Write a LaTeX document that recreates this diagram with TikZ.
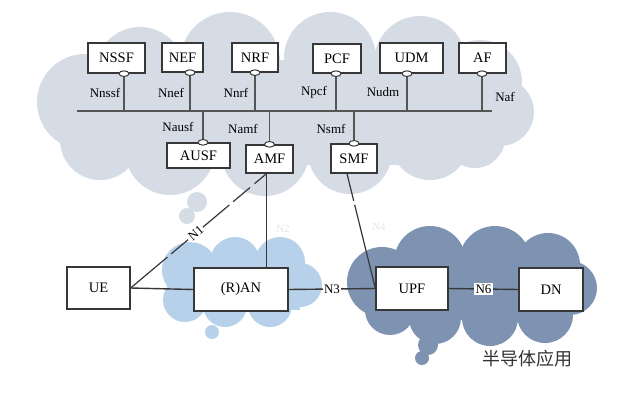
\documentclass[tikz,border=0pt]{standalone}
\usepackage{fontspec}
\setmainfont{Liberation Serif}
\newfontfamily\cjkfont{Noto Sans CJK SC}
\definecolor{cloudA}{RGB}{214,220,230}
\definecolor{cloudB}{RGB}{184,209,235}
\definecolor{cloudC}{RGB}{126,147,178}
\definecolor{lineC}{RGB}{55,55,55}
\begin{document}
\begin{tikzpicture}[x=1pt,y=-1pt,
  nf/.style={draw=lineC,line width=1.3pt,fill=white,inner sep=0pt,
    font=\fontsize{14.5}{16}\selectfont},
  ifl/.style={font=\fontsize{13}{15}\selectfont,inner sep=0pt},
  bus/.style={draw=lineC!85,line width=2.6pt},
  vline/.style={draw=lineC!85,line width=1.8pt},
  link/.style={draw=lineC,line width=1.4pt},
  oval/.style={draw=lineC,line width=1pt,fill=white},
  faint/.style={text=black!10,font=\fontsize{11}{13}\selectfont}]
\useasboundingbox (0,0) rectangle (630,394);
% ---------- clouds ----------
\foreach \cx/\cy/\r in {140/72/45,230/62/50,330/58/46,420/62/46,480/82/42,
  500/112/34,85/102/48,100/140/40,170/150/45,265/152/44,350/152/42,430/140/40,
  475/138/30,197/202/10,187/216/8}
  \fill[cloudA] (\cx,\cy) circle [radius=\r pt];
\fill[cloudA] (100,60) rectangle (490,165);
\foreach \cx/\cy/\r in {190/270/28,235/262/25,280/262/25,300/285/22,270/305/22,
  225/305/22,185/300/22,212/332/7}
  \fill[cloudB] (\cx,\cy) circle [radius=\r pt];
\fill[cloudB] (185,260) rectangle (300,310);
\foreach \cx/\cy/\r in {382/282/35,430/262/36,495/262/36,548/265/32,570/288/27,
  545/315/28,490/318/28,435/318/26,390/310/25,428/345/10,422/358/7}
  \fill[cloudC] (\cx,\cy) circle [radius=\r pt];
\fill[cloudC] (385,260) rectangle (560,320);
% ---------- nodes ----------
\node[nf,minimum width=57,minimum height=30] (NSSF) at (116.5,58) {NSSF};
\node[nf,minimum width=41,minimum height=29] (NEF) at (182.5,57.5) {NEF};
\node[nf,minimum width=46,minimum height=29] (NRF) at (255,57.5) {NRF};
\node[nf,minimum width=48,minimum height=29] (PCF) at (337,58.5) {PCF};
\node[nf,minimum width=63,minimum height=30] (UDM) at (411.5,58) {UDM};
\node[nf,minimum width=47,minimum height=30] (AF) at (482.5,58) {AF};
\node[nf,minimum width=63,minimum height=25] (AUSF) at (198.5,155.5) {AUSF};
\node[nf,minimum width=47,minimum height=28] (AMF) at (269.5,159) {AMF};
\node[nf,minimum width=46,minimum height=29] (SMF) at (354,158.5) {SMF};
\node[nf,minimum width=63,minimum height=42] (UE) at (98.5,288) {UE};
\node[nf,minimum width=94,minimum height=43] (RAN) at (241,289.5) {(R)AN};
\node[nf,minimum width=72,minimum height=43] (UPF) at (412,288.5) {UPF};
\node[nf,minimum width=64,minimum height=43] (DN) at (551,289.5) {DN};
% ---------- bus ----------
\coordinate (busL) at (77,111);
\coordinate (busR) at (492,111);
\draw[bus] (busL) -- (busR);
\coordinate (cNSSF) at ([xshift=7.5pt]NSSF.south);
\coordinate (cNEF) at ([xshift=7.5pt]NEF.south);
\coordinate (cNRF) at (NRF.south);
\coordinate (cPCF) at ([xshift=-1pt]PCF.south);
\coordinate (cUDM) at ([xshift=-4.5pt]UDM.south);
\coordinate (cAF) at ([xshift=-0.5pt]AF.south);
\coordinate (cAUSF) at ([xshift=4.5pt]AUSF.north);
\coordinate (cAMF) at (AMF.north);
\coordinate (cSMF) at (SMF.north);
\foreach \c in {cNSSF,cNEF,cNRF,cPCF,cUDM,cAF,cAUSF,cAMF,cSMF}
  \draw[vline] (\c) -- (\c |- busL);
\foreach \c in {cNSSF,cNEF,cNRF,cPCF,cUDM,cAF,cAUSF,cAMF,cSMF}
  \draw[oval] (\c) ellipse [x radius=5pt, y radius=2.8pt];
% ---------- interface labels ----------
\node[ifl] (lNnssf) at (105,93) {Nnssf};
\node[ifl] (lNnef) at (171,93) {Nnef};
\node[ifl] (lNnrf) at (236,93) {Nnrf};
\node[ifl] (lNpcf) at (314,92) {Npcf};
\node[ifl] (lNudm) at (383,92) {Nudm};
\node[ifl] (lNaf) at (505,97) {Naf};
\node[ifl] (lNausf) at (178,127) {Nausf};
\node[ifl] (lNamf) at (243,129) {Namf};
\node[ifl] (lNsmf) at (331,129) {Nsmf};
% ---------- links ----------
\coordinate (amfB) at ([xshift=-3pt]AMF.south);
\draw[link] (amfB) -- (amfB |- RAN.north);
\draw[link,line width=1.2pt,dash pattern=on 48pt off 5pt on 22pt off 6pt] (UE.east) -- (amfB)
  node[ifl,pos=0.48,sloped,fill=white,inner sep=1pt] (lN1) {N1};
\draw[link] (UE.east) -- (RAN.west);
\draw[link] (RAN.east) -- (UPF.west)
  node[ifl,pos=0.5,fill=white,inner sep=1pt] (lN3) {N3};
\draw[link,line width=1.2pt,dash pattern=on 28pt off 4pt on 100pt off 0pt] ([xshift=-7pt]SMF.south) -- (UPF.west);
\draw[link] (UPF.east) -- (DN.west)
  node[ifl,pos=0.5,fill=white,inner sep=1.5pt] (lN6) {N6};
\node[faint] (lN2) at (283,229) {N2};
\node[faint] (lN4) at (379,227) {N4};
% ---------- caption ----------
\node[text=black!80,font=\cjkfont\fontsize{18}{20}\selectfont] (cap) at (527,359) {半导体应用};
\end{tikzpicture}
\end{document}
